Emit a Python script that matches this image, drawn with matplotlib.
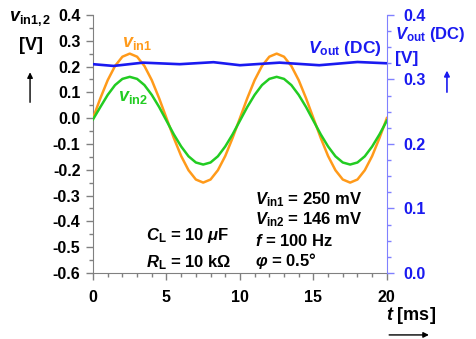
import matplotlib
matplotlib.use("Agg")
import matplotlib.pyplot as plt
from matplotlib.ticker import MultipleLocator

plt.rcParams['font.family'] = ['Liberation Sans', 'DejaVu Sans']
plt.rcParams['font.weight'] = 'bold'
plt.rcParams['mathtext.fontset'] = 'custom'
plt.rcParams['mathtext.rm'] = 'Liberation Sans:bold'
plt.rcParams['mathtext.it'] = 'Liberation Sans:italic:bold'
plt.rcParams['mathtext.bf'] = 'Liberation Sans:bold'
plt.rcParams['mathtext.fallback'] = 'cm'

# time axis [ms], sampled every 0.5 ms
t_ms = [i * 0.5 for i in range(41)]

# input voltages [V]
vin1 = [0.000, 0.077, 0.147, 0.202, 0.238, 0.250, 0.238, 0.202, 0.147, 0.077,
        0.000, -0.077, -0.147, -0.202, -0.238, -0.250, -0.238, -0.202, -0.147, -0.077,
        0.000, 0.077, 0.147, 0.202, 0.238, 0.250, 0.238, 0.202, 0.147, 0.077,
        0.000, -0.077, -0.147, -0.202, -0.238, -0.250, -0.238, -0.202, -0.147, -0.077,
        0.000]
vin2 = [-0.005, 0.043, 0.090, 0.128, 0.152, 0.160, 0.152, 0.128, 0.090, 0.043,
        -0.010, -0.063, -0.110, -0.148, -0.172, -0.180, -0.172, -0.148, -0.110, -0.063,
        -0.010, 0.043, 0.090, 0.128, 0.152, 0.160, 0.152, 0.128, 0.090, 0.043,
        -0.010, -0.063, -0.110, -0.148, -0.172, -0.180, -0.172, -0.148, -0.110, -0.063,
        -0.010]

# DC output voltage [V] with its small ripple
t_out = [0.0, 1.4, 3.4, 5.9, 8.2, 10.0, 12.7, 15.4, 18.0, 20.0]
vout = [0.3236, 0.3209, 0.3260, 0.3236, 0.3267, 0.3220, 0.3260, 0.3220, 0.3270, 0.3250]

# tick labels of the left axis
left_ticks = [0.4, 0.3, 0.2, 0.1, 0.0, -0.1, -0.2, -0.3, -0.4, -0.5, -0.6]
left_labels = ['0.4', '0.3', '0.2', '0.1', '0.0', '-0.1', '-0.2', '-0.3', '-0.4', '-0.5', '-0.6']

ORANGE = '#FF9A1A'
GREEN = '#22CC22'
BLUE = '#1A1AF0'
GREY = '#808080'
TICK_FS = 11.5

fig = plt.figure(figsize=(4.77, 3.39), dpi=100)
ax = fig.add_axes([0.195, 0.195, 0.616, 0.761])
ax2 = ax.twinx()

ax.plot(t_ms, vin1, color=ORANGE, lw=1.8, zorder=3)
ax.plot(t_ms, vin2, color=GREEN, lw=1.8, zorder=3)
ax2.plot(t_out, vout, color=BLUE, lw=1.9, zorder=2)

ax.set_xlim(0, 20)
ax.set_ylim(-0.6, 0.4)
ax2.set_ylim(0.0, 0.4)

ax.xaxis.set_major_locator(MultipleLocator(5))
ax.xaxis.set_minor_locator(MultipleLocator(1))
ax.set_yticks(left_ticks)
ax.set_yticklabels(left_labels)
ax.yaxis.set_minor_locator(MultipleLocator(0.05))
ax2.yaxis.set_major_locator(MultipleLocator(0.1))
ax2.yaxis.set_minor_locator(MultipleLocator(0.025))

for a in (ax, ax2):
    a.spines['top'].set_visible(False)
ax.spines['right'].set_visible(False)
ax.spines['left'].set_color(GREY)
ax.spines['bottom'].set_color(GREY)
ax2.spines['left'].set_visible(False)
ax2.spines['bottom'].set_visible(False)
ax2.spines['right'].set_color('#8080FF')

ax.tick_params(axis='both', which='major', direction='out', length=5, width=1,
               color=GREY, labelsize=TICK_FS)
ax.tick_params(axis='x', which='major', pad=7)
ax.tick_params(axis='y', which='major', pad=4)
ax.tick_params(axis='both', which='minor', direction='out', length=3, width=1, color=GREY)
ax2.tick_params(axis='y', which='major', direction='out', length=5, width=1,
                color='#8080FF', labelcolor=BLUE, labelsize=TICK_FS, pad=7)
ax2.tick_params(axis='y', which='minor', direction='out', length=3, width=1, color='#8080FF')
for lbl in ax.get_xticklabels() + ax.get_yticklabels() + ax2.get_yticklabels():
    lbl.set_fontweight('bold')

# axis titles
fig.text(0.018, 0.945, r'$v_{\rm in1,2}$', fontsize=13, ha='left', va='center')
fig.text(0.04, 0.865, '[V]', fontsize=13, ha='left', va='center')
fig.text(0.828, 0.897, r'$V_{\rm out}$ (DC)', fontsize=12, ha='left', va='center', color=BLUE)
fig.text(0.828, 0.828, '[V]', fontsize=12.5, ha='left', va='center', color=BLUE)
fig.text(0.81, 0.07, r'$t$ [ms]', fontsize=13, ha='left', va='center')

fig.add_artist(matplotlib.patches.FancyArrowPatch(
    (0.063, 0.69), (0.063, 0.795), transform=fig.transFigure,
    arrowstyle='-|>', mutation_scale=8, color='black', lw=1))
fig.add_artist(matplotlib.patches.FancyArrowPatch(
    (0.937, 0.72), (0.937, 0.80), transform=fig.transFigure,
    arrowstyle='-|>', mutation_scale=8, color=BLUE, lw=1.2))
fig.add_artist(matplotlib.patches.FancyArrowPatch(
    (0.81, 0.012), (0.905, 0.012), transform=fig.transFigure,
    arrowstyle='-|>', mutation_scale=8, color='black', lw=1))

# curve labels
ax.text(2.0, 0.29, r'$v_{\rm in1}$', fontsize=13, color=ORANGE, ha='left', va='center')
ax.text(1.7, 0.08, r'$v_{\rm in2}$', fontsize=13, color=GREEN, ha='left', va='center')
ax.text(14.6, 0.27, r'$V_{\rm out}$ (DC)', fontsize=12.5, color=BLUE, ha='left', va='center')

# circuit parameters
ax.text(3.6, -0.455, r'$C_{\rm L}$ = 10 $\mu$F', fontsize=12, ha='left', va='center')
ax.text(3.6, -0.56, r'$R_{\rm L}$ = 10 k$\Omega$', fontsize=12, ha='left', va='center')
ax.text(11.0, -0.315, r'$V_{\rm in1}$ = 250 mV', fontsize=12, ha='left', va='center')
ax.text(11.0, -0.395, r'$V_{\rm in2}$ = 146 mV', fontsize=12, ha='left', va='center')
ax.text(11.0, -0.475, r'$f$ = 100 Hz', fontsize=12, ha='left', va='center')
ax.text(11.0, -0.555, r'$φ$ = 0.5°', fontsize=12, ha='left', va='center')

fig.savefig('out.png', dpi=100)
